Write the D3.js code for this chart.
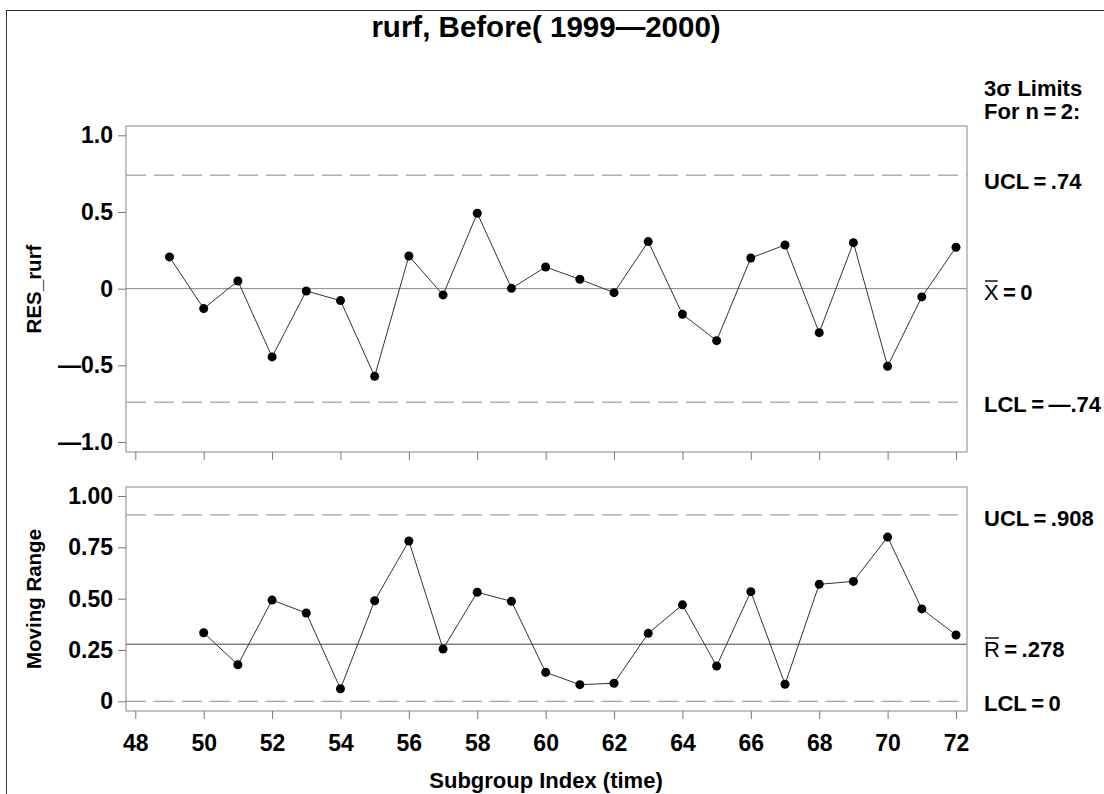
<!DOCTYPE html>
<html><head><meta charset="utf-8">
<script src="https://cdn.jsdelivr.net/npm/d3@7"></script>
<style>
html,body{margin:0;padding:0;background:#fff;}
text{font-family:"Liberation Sans",Arial,sans-serif;font-weight:bold;fill:#000;}
</style></head>
<body>
<svg id="c" width="1104" height="794"></svg>
<script>
// ---- data ----
const subgroups = [49,50,51,52,53,54,55,56,57,58,59,60,61,62,63,64,65,66,67,68,69,70,71,72];
const resValues = [0.207,-0.130,0.050,-0.445,-0.015,-0.078,-0.572,0.213,-0.041,0.492,0.002,0.141,
                   0.061,-0.026,0.307,-0.167,-0.339,0.200,0.285,-0.287,0.300,-0.506,-0.054,0.270];
const mrSubgroups = [50,51,52,53,54,55,56,57,58,59,60,61,62,63,64,65,66,67,68,69,70,71,72];
const mrValues = [0.334,0.178,0.493,0.430,0.061,0.490,0.781,0.255,0.531,0.487,0.141,0.081,
                  0.088,0.331,0.470,0.172,0.534,0.083,0.570,0.584,0.800,0.450,0.323];
const xTicks = [48,50,52,54,56,58,60,62,64,66,68,70,72];
const topTicks = [1.0,0.5,0,-0.5,-1.0];
const topTickLabels = ["1.0","0.5","0","\u20140.5","\u20141.0"];
const botTicks = [1.0,0.75,0.5,0.25,0];
const botTickLabels = ["1.00","0.75","0.50","0.25","0"];
const xbarLimits = {ucl:0.74, center:0, lcl:-0.74};
const mrLimits = {ucl:0.908, center:0.278, lcl:0};
const titleText = "rurf, Before( 1999\u20142000)";
const EQ = "\u2009=\u2009";

// ---- layout ----
const svg = d3.select("#c");
const L = 126, R = 967;
const top1 = 126, bot1 = 452, top2 = 487, bot2 = 711;
const FS = "22px", TFS = "23px", AFS = "20.5px";

const x = d3.scaleLinear().domain([48,72]).range([135.3,956]);
const y1 = d3.scaleLinear().domain([-1,1]).range([442,135.3]);
const y2 = d3.scaleLinear().domain([0,1]).range([701.3,496]);

// outer border (top & left)
svg.append("line").attr("x1",6).attr("x2",1104).attr("y1",10.5).attr("y2",10.5).attr("stroke","#333").attr("stroke-width",1);
svg.append("line").attr("x1",6.5).attr("x2",6.5).attr("y1",10).attr("y2",794).attr("stroke","#333").attr("stroke-width",1);

// title
svg.append("text").attr("x",546).attr("y",37).attr("text-anchor","middle")
  .style("font-size","29.5px").text(titleText);

function panel(y, top, bot, xs, vals, lim, ticks, tickLabels, centerColor, yTitle){
  const g = svg.append("g");
  g.append("line").attr("x1",L).attr("x2",R).attr("y1",y(lim.ucl)).attr("y2",y(lim.ucl))
    .attr("stroke","#888").attr("stroke-dasharray","20,8");
  g.append("line").attr("x1",L).attr("x2",R).attr("y1",y(lim.lcl)).attr("y2",y(lim.lcl))
    .attr("stroke","#888").attr("stroke-dasharray","20,8");
  g.append("line").attr("x1",L).attr("x2",R).attr("y1",y(lim.center)).attr("y2",y(lim.center))
    .attr("stroke",centerColor);
  g.append("rect").attr("x",L).attr("y",top).attr("width",R-L).attr("height",bot-top)
    .attr("fill","none").attr("stroke","#999").attr("stroke-width",1.2);
  const ya = d3.axisLeft(y).tickValues(ticks).tickSize(8).tickPadding(5)
    .tickFormat((d,i)=>tickLabels[i]);
  const yg = g.append("g").attr("transform",`translate(${L},0)`).call(ya);
  yg.select(".domain").remove();
  yg.selectAll(".tick line").attr("stroke","#777");
  yg.selectAll(".tick text").style("font-size",TFS).attr("fill","#000");
  const xa = d3.axisBottom(x).tickValues(xTicks).tickSize(8).tickFormat("");
  const xg = g.append("g").attr("transform",`translate(0,${bot})`).call(xa);
  xg.select(".domain").remove();
  xg.selectAll(".tick line").attr("stroke","#777");
  const line = d3.line().x((d,i)=>x(xs[i])).y(d=>y(d));
  g.append("path").datum(vals).attr("d",line).attr("fill","none").attr("stroke","#333").attr("stroke-width",1);
  g.selectAll("circle.pt").data(vals).enter().append("circle")
    .attr("cx",(d,i)=>x(xs[i])).attr("cy",d=>y(d)).attr("r",4.5).attr("fill","#000");
  const cy = (top+bot)/2;
  g.append("text").attr("transform",`translate(41,${cy}) rotate(-90)`).attr("text-anchor","middle")
    .style("font-size",AFS).text(yTitle);
  return g;
}

panel(y1, top1, bot1, subgroups, resValues, xbarLimits, topTicks, topTickLabels, "#888", "RES_rurf");
panel(y2, top2, bot2, mrSubgroups, mrValues, mrLimits, botTicks, botTickLabels, "#444", "Moving Range");

// x tick labels (bottom panel)
const xl = d3.axisBottom(x).tickValues(xTicks).tickSize(0).tickPadding(0).tickFormat(d3.format("d"));
const xlg = svg.append("g").attr("transform",`translate(0,${bot2})`).call(xl);
xlg.select(".domain").remove();
xlg.selectAll(".tick text").attr("dy",null).attr("y",40).style("font-size",TFS).attr("fill","#000");
svg.append("text").attr("x",546).attr("y",788).attr("text-anchor","middle")
  .style("font-size",FS).text("Subgroup Index  (time)");

// right labels
const RX = 984;
function rlabel(yb, txt){
  return svg.append("text").attr("x",RX).attr("y",yb).style("font-size",FS).text(txt);
}
rlabel(96, "3\u03c3 Limits");
rlabel(119, "For n" + EQ + "2:");
rlabel(189, "UCL" + EQ + ".74");
rlabel(412, "LCL" + EQ + "\u2014.74");
rlabel(526, "UCL" + EQ + ".908");
rlabel(711, "LCL" + EQ + "0");
function barLabel(yb, letter, rest){
  const t = svg.append("text").attr("x",RX).attr("y",yb).style("font-size",FS);
  const a = t.append("tspan").style("font-weight","normal").text(letter);
  t.append("tspan").text(rest);
  const w = a.node().getComputedTextLength();
  svg.append("line").attr("x1",RX+1).attr("x2",RX+w-1).attr("y1",yb-19).attr("y2",yb-19).attr("stroke","#000").attr("stroke-width",1.4);
}
barLabel(300, "X", EQ + "0");
barLabel(657, "R", EQ + ".278");
</script>
</body></html>
